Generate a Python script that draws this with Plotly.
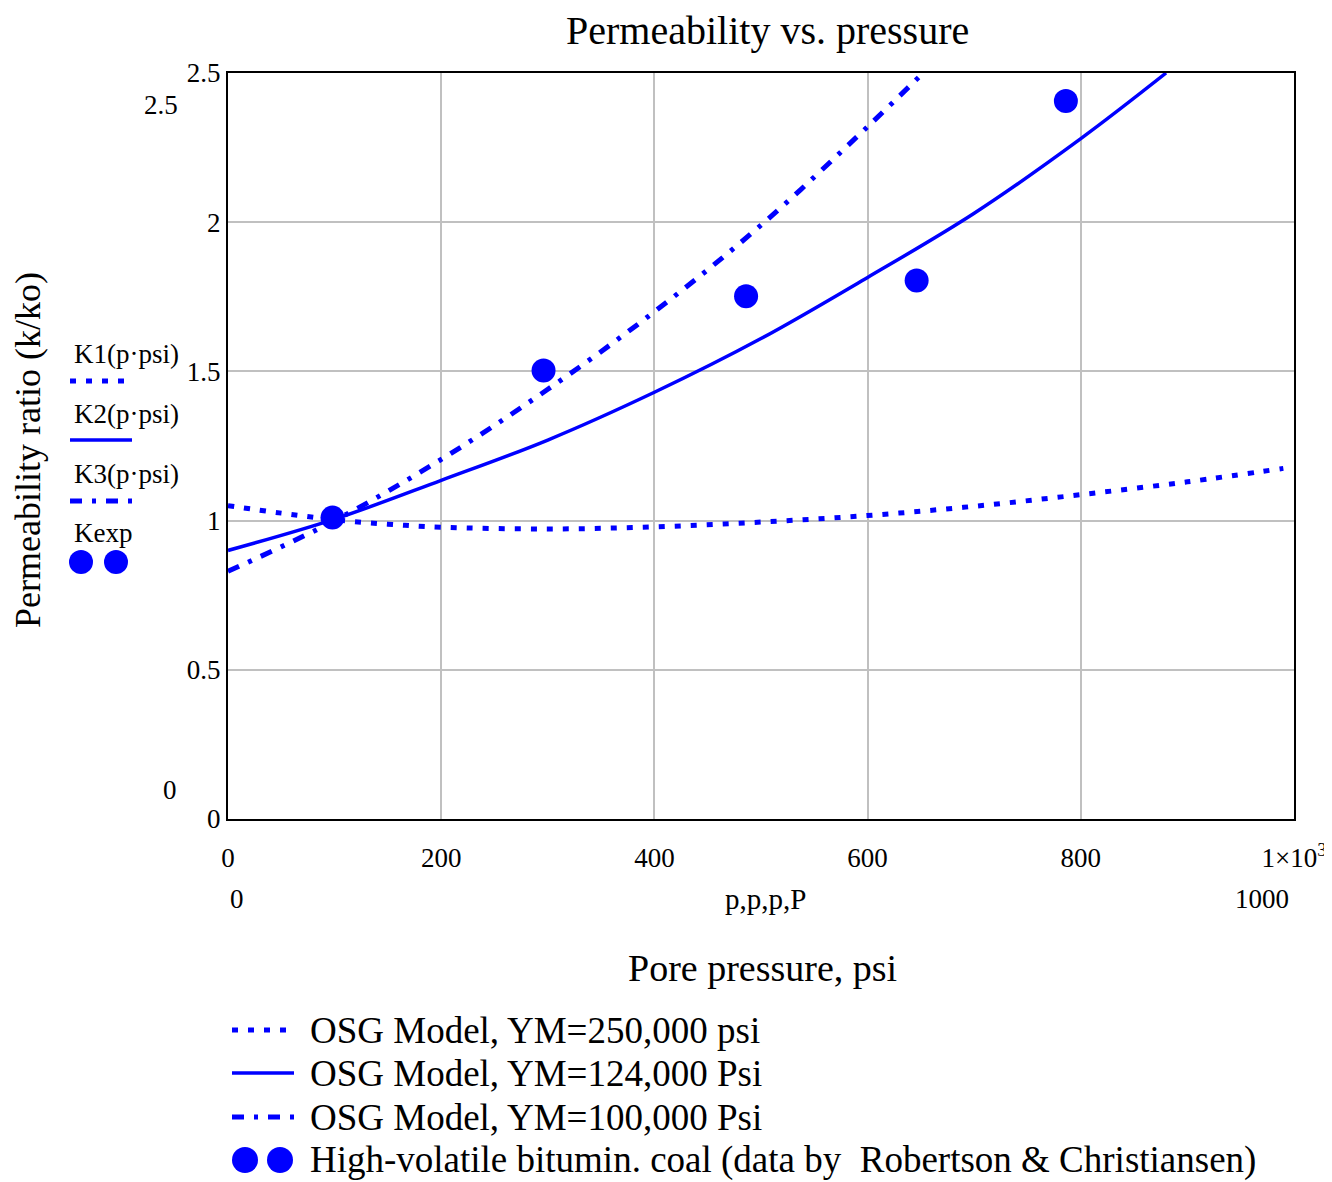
import plotly.graph_objects as go

# ---- data ----
p_k1 = [0, 50, 100, 150, 200, 300, 400, 500, 600, 700, 800, 900, 990]
k1 = [1.05, 1.025, 1.003, 0.988, 0.978, 0.972, 0.979, 0.995, 1.017, 1.048, 1.087, 1.13, 1.175]

p_k2 = [0, 100, 200, 300, 400, 500, 600, 700, 800, 880]
k2 = [0.90, 1.005, 1.135, 1.27, 1.43, 1.61, 1.815, 2.03, 2.28, 2.5]

p_k3 = [0, 100, 200, 300, 400, 500, 600, 652]
k3 = [0.83, 1.0, 1.205, 1.44, 1.70, 1.99, 2.32, 2.5]

p_exp = [98, 296, 486, 646, 786]
k_exp = [1.01, 1.503, 1.752, 1.805, 2.406]

x_ticks = [0, 200, 400, 600, 800, 1000]
x_ticktext = ["0", "200", "400", "600", "800", "1×10<sup>3</sup>"]
y_ticks = [0, 0.5, 1, 1.5, 2, 2.5]
y_ticktext = ["0", "0.5", "1", "1.5", "2", "2.5"]

legend_names = [
    "OSG Model, YM=250,000 psi",
    "OSG Model, YM=124,000 Psi",
    "OSG Model, YM=100,000 Psi",
    "High-volatile bitumin. coal (data by  Robertson & Christiansen)",
]
side_names = ["K1(p·psi)", "K2(p·psi)", "K3(p·psi)", "Kexp"]

# ---- layout geometry (reference pixels; page body adds an 8px margin) ----
OFF = 8
W, H = 1332 - OFF, 1182 - OFF
L, R, T, B = 228 - OFF, 1294 - OFF, 73 - OFF, 819 - OFF
BLUE = "#0000ff"
FONT = "Liberation Serif"
DOT = "6px,10px"
DASHDOT = "12px,10px,4px,10px"


def px(x):
    return (x - OFF - L) / (R - L)


def py(y):
    return (B - (y - OFF)) / (B - T)


fig = go.Figure()
fig.add_trace(go.Scatter(x=p_k1, y=k1, mode="lines", line=dict(color=BLUE, width=5, dash=DOT, shape="spline"),
                         name=legend_names[0]))
fig.add_trace(go.Scatter(x=p_k2, y=k2, mode="lines", line=dict(color=BLUE, width=3.5, shape="spline"),
                         name=legend_names[1]))
fig.add_trace(go.Scatter(x=p_k3, y=k3, mode="lines", line=dict(color=BLUE, width=5, dash=DASHDOT, shape="spline"),
                         name=legend_names[2]))
fig.add_trace(go.Scatter(x=p_exp, y=k_exp, mode="markers", marker=dict(color=BLUE, size=24, symbol="circle"),
                         name=legend_names[3]))

ann = []


def text(x, y, s, size, xanchor="center", angle=0):
    ann.append(dict(x=px(x), y=py(y), xref="paper", yref="paper", text=s, showarrow=False,
                    xanchor=xanchor, yanchor="middle", textangle=angle,
                    font=dict(family=FONT, size=size, color="black")))


text(767, 30, "Permeability vs. pressure", 40)
text(161, 105, "2.5", 27)
text(170, 790, "0", 27)
text(237, 899, "0", 27)
text(765, 899, "p,p,p,P", 29)
text(1262, 899, "1000", 27)
text(762, 968, "Pore pressure, psi", 38)
text(28, 450, "Permeability ratio (k/ko)", 36, angle=-90)

for s, yy in zip(side_names, [354, 414, 474, 533]):
    text(72, yy, s, 27, xanchor="left")

shapes = []


def hline(x0, x1, y, width, dash):
    shapes.append(dict(type="line", xref="paper", yref="paper", x0=px(x0), x1=px(x1), y0=py(y), y1=py(y),
                       line=dict(color=BLUE, width=width, dash=dash)))


def circle(cx, cy, r):
    shapes.append(dict(type="circle", xref="paper", yref="paper", x0=px(cx - r), x1=px(cx + r),
                       y0=py(cy + r), y1=py(cy - r), fillcolor=BLUE, line=dict(color=BLUE, width=0)))


# side legend samples
hline(70, 126, 381, 5, DOT)
hline(70, 132, 440, 3.5, "solid")
hline(70, 132, 501, 5, DASHDOT)
circle(81, 562, 12)
circle(116, 562, 12)

# bottom legend
rows = [1030, 1073, 1117, 1160]
hline(232, 294, rows[0], 5, DOT)
hline(232, 294, rows[1], 3.5, "solid")
hline(232, 294, rows[2], 5, DASHDOT)
circle(245, rows[3], 13)
circle(280, rows[3], 13)
for s, yy in zip(legend_names, rows):
    text(308, yy, s, 37, xanchor="left")

fig.update_layout(
    width=W, height=H,
    margin=dict(l=L, r=W - R, t=T, b=H - B, autoexpand=False),
    paper_bgcolor="white", plot_bgcolor="white",
    showlegend=False,
    annotations=ann, shapes=shapes,
    font=dict(family=FONT, color="black"),
)
fig.update_xaxes(range=[0, 1000], tickvals=x_ticks, ticktext=x_ticktext, showgrid=True, gridcolor="#c0c0c0",
                 gridwidth=2, showline=True, linecolor="black", linewidth=2, mirror=True, ticks="",
                 zeroline=False, tickfont=dict(family=FONT, size=27, color="black"), ticklabelstandoff=14)
fig.update_yaxes(range=[0, 2.5], tickvals=y_ticks, ticktext=y_ticktext, showgrid=True, gridcolor="#c0c0c0",
                 gridwidth=2, showline=True, linecolor="black", linewidth=2, mirror=True, ticks="",
                 zeroline=False, tickfont=dict(family=FONT, size=27, color="black"), ticklabelstandoff=0)

fig.write_html("out.html")
